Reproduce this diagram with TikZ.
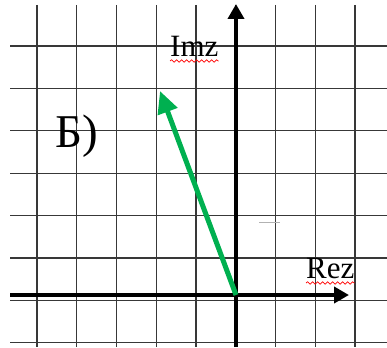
\documentclass[tikz,border=0pt]{standalone}
\usepackage{fontspec}
\setmainfont{Liberation Serif}
\usetikzlibrary{arrows.meta}
\usetikzlibrary{decorations.pathmorphing}
\definecolor{vecgreen}{RGB}{0,176,80}
\tikzset{
  gridline/.style={draw=black!78,line width=1.2pt},
  axis/.style={line width=4pt,-{Triangle[length=15pt,width=16pt]}},
  squiggle/.style={red,line width=0.7pt,decorate,decoration={snake,amplitude=1.2pt,segment length=5pt}},
  axislabel/.style={anchor=base west,inner sep=0pt,font=\fontsize{31}{31}\selectfont},
}
\begin{document}
\begin{tikzpicture}[x=1pt,y=-1pt]
\useasboundingbox (0,0) rectangle (387,347);
\foreach \gx in {0,...,8} \draw[gridline] (37+39.75*\gx,5) -- (37+39.75*\gx,347);
\foreach \gy in {0,...,7} \draw[gridline] (10,46+42.4*\gy) -- (387,46+42.4*\gy);
\draw[black!30,line width=1pt] (259,222) -- (280,222);
\coordinate (O) at (236,295);
\coordinate (xfrom) at (10,295);
\coordinate (xto) at (349,295);
\coordinate (yfrom) at (236,347);
\coordinate (yto) at (236,4);
\coordinate (P) at (160,91);
\draw[axis] (xfrom) -- (xto);
\draw[axis] (yfrom) -- (yto);
\draw[vecgreen,line width=5pt,-{Triangle[length=22pt,width=20pt]}] (O) -- (P);
\node[axislabel] (imz) at (170,57) {Imz};
\node[axislabel] (rez) at (306,278) {Rez};
\node[anchor=base west,inner sep=0pt,font=\fontsize{47}{47}\selectfont] (variant) at (55,148) {Б)};
\draw[squiggle] ([yshift=-4pt]imz.base west) -- ([yshift=-4pt]imz.base east);
\draw[squiggle] ([yshift=-5pt]rez.base west) -- ([yshift=-5pt]rez.base east);
\end{tikzpicture}
\end{document}
